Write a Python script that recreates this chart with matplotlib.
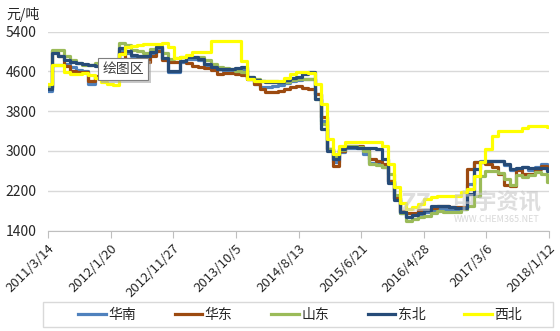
import pandas as pd
import matplotlib
matplotlib.use('Agg')
import matplotlib.pyplot as plt
from matplotlib.patches import Rectangle

plt.rcParams['font.family'] = ['Noto Sans CJK SC', 'DejaVu Sans']

# monthly readings (first point is the series start, then 1st of each month)
start_date = '2011-03-14'
end_date = '2018-01-12'
month_starts = pd.date_range('2011-04-01', '2018-01-01', freq='MS')

huanan = [4200,
          4720, 4720, 4740, 4680, 4620, 4600, 4340, 4480, 4560, 4600, 4640, 5020,
          4960, 4900, 4880, 4880, 4960, 5060, 4840, 4580, 4580, 4780, 4840, 4840,
          4820, 4720, 4660, 4640, 4600, 4580, 4620, 4640, 4440, 4340, 4280, 4280,
          4300, 4320, 4360, 4400, 4420, 4440, 4440, 4140, 3600, 3040, 2780, 2980,
          3060, 3060, 3060, 2940, 2760, 2740, 2680, 2400, 2060, 1760, 1680, 1720,
          1740, 1780, 1800, 1840, 1840, 1840, 1840, 1840, 2340, 2780, 2800, 2800,
          2800, 2800, 2720, 2620, 2640, 2680, 2620, 2680, 2740, 2720]
huadong = [4280,
           5000, 4900, 4700, 4600, 4580, 4580, 4400, 4500, 4560, 4600, 4600, 4960,
           4840, 4820, 4800, 4780, 4900, 5000, 4820, 4780, 4780, 4800, 4760, 4700,
           4680, 4660, 4620, 4540, 4560, 4560, 4540, 4520, 4440, 4340, 4240, 4180,
           4180, 4200, 4240, 4280, 4300, 4260, 4240, 4140, 3680, 3040, 2700, 3000,
           3100, 3100, 3100, 3040, 2840, 2800, 2740, 2400, 2060, 1800, 1760, 1760,
           1820, 1820, 1860, 1900, 1900, 1880, 1880, 1880, 2640, 2780, 2780, 2740,
           2680, 2540, 2320, 2300, 2620, 2540, 2540, 2640, 2700, 2680]
shandong = [4280,
            5020, 5020, 4900, 4820, 4760, 4720, 4720, 4760, 4720, 4680, 4680, 5160,
            5120, 5020, 5000, 4960, 5040, 5100, 4960, 4840, 4860, 4880, 4880, 4880,
            4880, 4820, 4740, 4680, 4660, 4640, 4600, 4580, 4480, 4440, 4400, 4400,
            4400, 4380, 4380, 4420, 4440, 4440, 4440, 4040, 3540, 3040, 2880, 3020,
            3100, 3100, 3080, 3000, 2740, 2720, 2680, 2540, 2120, 1760, 1600, 1640,
            1680, 1700, 1760, 1800, 1780, 1780, 1780, 1840, 1900, 2100, 2500, 2600,
            2600, 2560, 2440, 2320, 2520, 2480, 2520, 2580, 2540, 2380]
dongbei = [4240,
           4960, 4900, 4820, 4780, 4760, 4740, 4720, 4700, 4680, 4660, 4660, 5060,
           5000, 4920, 4900, 4900, 4980, 5080, 4860, 4600, 4600, 4800, 4880, 4880,
           4840, 4740, 4680, 4640, 4640, 4640, 4660, 4680, 4480, 4420, 4400, 4380,
           4380, 4380, 4420, 4460, 4480, 4540, 4580, 4040, 3440, 3000, 2840, 3040,
           3080, 3080, 3060, 3060, 3060, 3040, 2840, 2360, 2020, 1780, 1680, 1720,
           1760, 1820, 1900, 1900, 1900, 1880, 1860, 1860, 2140, 2640, 2780, 2800,
           2800, 2800, 2740, 2640, 2660, 2680, 2660, 2660, 2660, 2600]
xibei = [4340,
         4720, 4720, 4580, 4540, 4540, 4560, 4520, 4460, 4380, 4340, 4320, 4940,
         5080, 5100, 5120, 5140, 5140, 5140, 5160, 5080, 4860, 4880, 4920, 4980,
         4980, 4980, 5200, 5200, 5200, 5200, 5200, 4800, 4440, 4400, 4400, 4400,
         4400, 4400, 4460, 4540, 4580, 4580, 4560, 4340, 3940, 3240, 2940, 3100,
         3180, 3180, 3180, 3180, 3180, 3180, 3100, 2740, 2280, 1960, 1840, 1880,
         1940, 2040, 2080, 2100, 2100, 2100, 2100, 2180, 2240, 2500, 2780, 3040,
         3300, 3400, 3400, 3400, 3400, 3460, 3500, 3500, 3500, 3480]

names = ['华南', '华东', '山东', '东北', '西北']
colors = ['#4F81BD', '#9C4A10', '#9BBB59', '#264B78', '#FFFF00']
tick_labels = ['2011/3/14', '2012/1/20', '2012/11/27', '2013/10/5', '2014/8/13',
               '2015/6/21', '2016/4/28', '2017/3/6', '2018/1/12']

x = [pd.Timestamp(start_date)] + list(month_starts) + [pd.Timestamp(end_date)]

fig = plt.figure(figsize=(5.6, 3.31), dpi=100)
ax = fig.add_axes([48/560, 1-230.5/331, 501/560, 199/331])

for name, vals, color in zip(names, [huanan, huadong, shandong, dongbei, xibei], colors):
    ax.plot(x, vals + [vals[-1]], drawstyle='steps-post', color=color, lw=2.3, label=name)

ax.set_xlim(x[0], x[-1])
ax.set_ylim(1400, 5400)
ax.set_yticks(range(1400, 5401, 800))
ax.yaxis.grid(True, color='#D9D9D9', lw=1)
ax.set_axisbelow(True)
for s in ['left', 'right', 'top']:
    ax.spines[s].set_visible(False)
ax.spines['bottom'].set_color('#BFBFBF')

tick_pos = pd.to_datetime(tick_labels, format='%Y/%m/%d')
ax.set_xticks(tick_pos)
ax.set_xticklabels(tick_labels, rotation=45, ha='right', rotation_mode='anchor')
ax.tick_params(axis='x', length=5, color='#BFBFBF', pad=3, labelsize=9.5, labelcolor='#262626')
ax.tick_params(axis='y', length=0, pad=8, labelsize=10, labelcolor='#262626')

fig.text(6/560, 1-15/331, '元/吨', fontsize=10, color='#262626', va='center')

# watermark
fig.text(416/560, 1-204/331, 'ZZ', fontsize=18, fontweight='bold', style='italic',
         color='#C8C8C8', alpha=0.6, ha='center', va='center', zorder=10)
fig.text(497/560, 1-203/331, '中宇资讯', fontsize=16, fontweight='bold',
         color='#C8C8C8', alpha=0.6, ha='center', va='center', zorder=10)
fig.text(497/560, 1-219/331, 'WWW.CHEM365.NET', fontsize=6.5,
         color='#C8C8C8', alpha=0.7, ha='center', va='center', zorder=10)

# tooltip box
fig.add_artist(Rectangle((101/560, 1-83/331), 50/560, 22/331, transform=fig.transFigure,
                         facecolor='#A6A6A6', edgecolor='none', alpha=0.6, zorder=20))
fig.add_artist(Rectangle((98/560, 1-80/331), 50/560, 22/331, transform=fig.transFigure,
                         facecolor='white', edgecolor='#7F7F7F', lw=0.8, zorder=21))
fig.text(123/560, 1-69/331, '绘图区', fontsize=10, color='#404040',
         ha='center', va='center', zorder=22)

# legend
fig.add_artist(Rectangle((43/560, 1-327/331), 510/560, 25/331, transform=fig.transFigure,
                         fill=False, edgecolor='#D9D9D9', lw=1))
handles, labels = ax.get_legend_handles_labels()
fig.legend(handles, labels, loc='center', bbox_to_anchor=(300/560, 1-314.5/331), ncol=5,
           frameon=False, fontsize=10, handlelength=2.0, handletextpad=0.15,
           columnspacing=2.8, labelcolor='#262626')

fig.savefig('out.png', dpi=100)
